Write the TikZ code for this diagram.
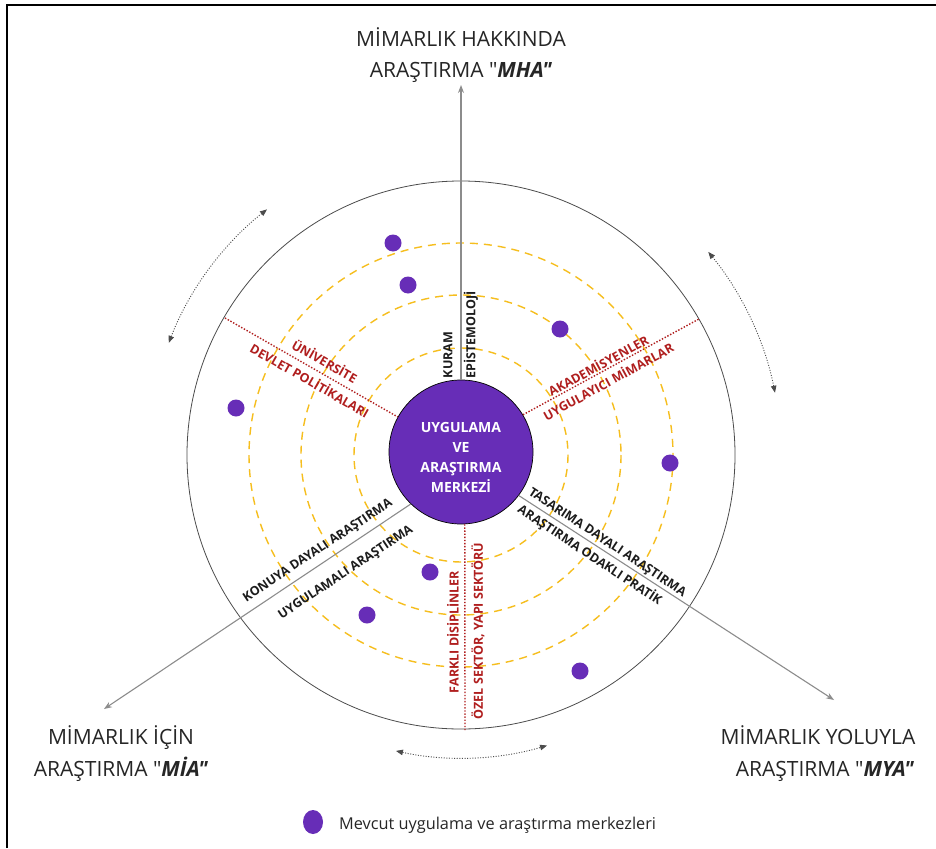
\documentclass[tikz,border=0pt]{standalone}
\usepackage{fontspec}
\newfontfamily\osans{Open Sans}
\usetikzlibrary{arrows.meta,shapes.geometric}
\definecolor{mypurple}{HTML}{672DB7}
\definecolor{ringyellow}{HTML}{F6BE1E}
\definecolor{labred}{HTML}{B01E1E}
\definecolor{labblack}{HTML}{1C1C1C}
\definecolor{spokegray}{HTML}{8C8C8C}
\newcommand\mylabfont{\osans\fontsize{12.5}{15}\selectfont\bfseries}
\newcommand\mytitlefont{\osans\fontsize{21}{26}\selectfont}
\newcommand\mycenterfont{\osans\fontsize{14}{20}\selectfont\bfseries}
\newcommand\mylegfont{\osans\fontsize{16.3}{19}\selectfont}
\tikzset{
  frameline/.style={draw=black, line width=1.8pt},
  ring/.style={draw=ringyellow, line width=1.4pt, dash pattern=on 8pt off 6pt},
  outerc/.style={draw=gray!60!black, line width=0.8pt},
  reddot/.style={draw=labred, line width=1.4pt, dash pattern=on 1.4pt off 1.7pt},
  spoke/.style={draw=spokegray, line width=1.1pt, -{Stealth[length=8pt,width=6pt]}},
  curv/.style={draw=gray!60!black, line width=0.9pt, dash pattern=on 1pt off 1.6pt,
    {Triangle[length=7pt,width=5.5pt]}-{Triangle[length=7pt,width=5.5pt]}},
  hub/.style={circle, draw=black, line width=0.7pt, fill=mypurple, minimum size=144pt, inner sep=0pt},
  dotc/.style={circle, fill=mypurple, inner sep=0pt, minimum size=17pt},
  redlab/.style={text=labred, font=\mylabfont, inner sep=0pt},
  blklab/.style={text=labblack, font=\mylabfont, inner sep=0pt},
  titletxt/.style={anchor=base, font=\mytitlefont, text=black!85, inner sep=0pt}
}
\begin{document}
\begin{tikzpicture}[x=1pt,y=-1pt]
\useasboundingbox (0,0) rectangle (936,848);
\fill[white] (0,0) rectangle (936,848);
\draw[frameline] (7,848) -- (7,5) -- (936,5);

\coordinate (C) at (461,455);
\draw[ring] (C) circle[radius=107];
\draw[ring] (C) circle[radius=160];
\draw[ring] (C) circle[radius=212];
\draw[outerc] (C) circle[radius=274];

\node[hub] (c) at (461,452) {};
\node[text=white, font=\mycenterfont, align=center, inner sep=0pt] (ctext) at (461,457)
  {UYGULAMA\\VE\\ARAŞTIRMA\\MERKEZİ};

% red dotted dividers
\coordinate (rUL) at (225,318);
\coordinate (rUR) at (699,319);
\coordinate (rB) at (465,730);
\draw[reddot] (rUL) -- (c.151);
\draw[reddot] (c.31) -- (rUR);
\draw[reddot] (c.-87) -- (rB);

% spokes
\coordinate (aT) at (461,85);
\coordinate (aL) at (104,709);
\coordinate (aR) at (834,700);
\draw[spoke] (c.90) -- (aT);
\draw[spoke] (c.226) -- (aL);
\draw[spoke] (c.-37) -- (aR);

% curved double arrows
\draw[curv] ([shift={(-128.3:313)}]C) arc[start angle=-128.3, end angle=-159, radius=313];
\draw[curv] ([shift={(-39.4:320)}]C) arc[start angle=-39.4, end angle=-11.3, radius=321];
\draw[curv] ([shift={(102.4:303)}]C) arc[start angle=102.4, end angle=73.5, radius=303];

% existing centres
\node[dotc] (d1) at (393,243) {};
\node[dotc] (d2) at (408,285) {};
\node[dotc] (d3) at (560,329) {};
\node[dotc] (d4) at (236,408) {};
\node[dotc] (d5) at (670,463) {};
\node[dotc] (d6) at (430,572) {};
\node[dotc] (d7) at (367,615) {};
\node[dotc] (d8) at (580,671) {};

% labels
\node[blklab, rotate=90] (kuram) at (448,355) {KURAM};
\node[blklab, rotate=90] (epis) at (471,335) {EPİSTEMOLOJİ};
\node[redlab, rotate=-29.7] (univ) at (325,361) {ÜNİVERSİTE};
\node[redlab, rotate=-29.7] (devlet) at (310,380) {DEVLET POLİTİKALARI};
\node[redlab, rotate=28.7] (akad) at (598,365) {AKADEMİSYENLER};
\node[redlab, rotate=28.7] (uygmim) at (608,381) {UYGULAYICI MİMARLAR};
\node[blklab, rotate=-33.5] (tasar) at (607,543) {TASARIMA DAYALI ARAŞTIRMA};
\node[blklab, rotate=-33.5] (odakli) at (590,555) {ARAŞTIRMA ODAKLI PRATİK};
\node[blklab, rotate=33.6] (konuya) at (318,551) {KONUYA DAYALI ARAŞTIRMA};
\node[blklab, rotate=33.6] (uygar) at (346,573) {UYGULAMALI ARAŞTIRMA};
\node[redlab, rotate=90] (farkli) at (453,632) {FARKLI DİSİPLİNLER};
\node[redlab, rotate=90] (ozel) at (478,631) {ÖZEL SEKTÖR, YAPI SEKTÖRÜ};

% titles
\node[titletxt] (t1a) at (461,46.5) {MİMARLIK HAKKINDA};
\node[titletxt] (t1b) at (461,78) {ARAŞTIRMA "\textbf{\textit{MHA"}}};
\node[titletxt] (t2a) at (121,744) {MİMARLIK İÇİN};
\node[titletxt] (t2b) at (121,776) {ARAŞTIRMA "\textbf{\textit{MİA"}}};
\node[titletxt] (t3a) at (818,744) {MİMARLIK YOLUYLA};
\node[titletxt] (t3b) at (825,776) {ARAŞTIRMA "\textbf{\textit{MYA"}}};

% legend
\node[ellipse, fill=mypurple, minimum width=20pt, minimum height=24pt, inner sep=0pt] (leg) at (313,822) {};
\node[anchor=base west, font=\mylegfont, text=black!85, inner sep=0pt] (legtxt) at (339,829)
  {Mevcut uygulama ve araştırma merkezleri};
\end{tikzpicture}
\end{document}
